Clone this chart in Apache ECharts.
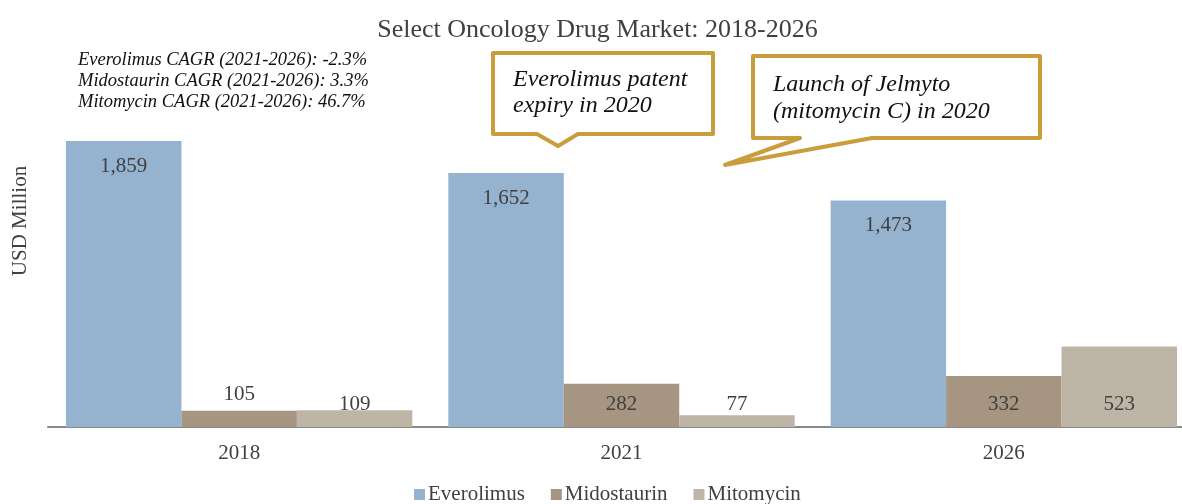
<!DOCTYPE html>
<html>
<head>
<meta charset="utf-8">
<script src="https://cdn.jsdelivr.net/npm/echarts@6/dist/echarts.min.js"></script>
<style>
  html, body { margin: 0; padding: 0; background: #fff; overflow: hidden; }
  #chart { width: 1195px; height: 504px; }
</style>
</head>
<body>
<div id="chart"></div>
<script>
// Market size by year, USD million
const categories = ['2018', '2021', '2026'];
const seriesNames = ['Everolimus', 'Midostaurin', 'Mitomycin'];
const everolimus = [1859, 1652, 1473];
const midostaurin = [105, 282, 332];
const mitomycin = [109, 77, 523];
const cagrNotes = [
  'Everolimus CAGR (2021-2026): -2.3%',
  'Midostaurin CAGR (2021-2026): 3.3%',
  'Mitomycin CAGR (2021-2026): 46.7%'
];
const calloutPatent = ['Everolimus patent', 'expiry in 2020'];
const calloutLaunch = ['Launch of Jelmyto', '(mitomycin C) in 2020'];
const yAxisTitle = 'USD Million';

const FONT = '"Liberation Serif", "DejaVu Serif", serif';
const TEXT = '#404040';
const GOLD = '#C99D3B';
const colors = ['#95B2CE', '#A69581', '#BEB5A7'];

const chart = echarts.init(document.getElementById('chart'), null, { renderer: 'canvas' });

const labelBase = {
  show: true,
  color: TEXT,
  fontFamily: FONT,
  fontSize: 21,
  formatter: p => echarts.format.addCommas(p.value)
};

// Short bars get their label above; the rest sit near the bar foot
function lowSeriesData(values, abovePositions) {
  return values.map((v, i) => ({
    value: v,
    label: abovePositions.includes(i)
      ? { position: 'top', distance: 6 }
      : { position: 'insideBottom', distance: 12 }
  }));
}

const option = {
  animation: false,
  color: colors,
  title: {
    text: 'Select Oncology Drug Market: 2018-2026',
    left: 'center',
    top: 12,
    textStyle: { fontFamily: FONT, fontSize: 26, fontWeight: 'normal', color: TEXT }
  },
  legend: {
    top: 479,
    left: 409,
    itemWidth: 11,
    itemHeight: 11,
    itemGap: 26,
    icon: 'rect',
    textStyle: { fontFamily: FONT, fontSize: 21, color: TEXT, padding: [0, 0, 0, -2] },
    data: seriesNames
  },
  grid: { left: 48, right: 0, top: 119.4, height: 307.6, containLabel: false, outerBoundsMode: 'none' },
  xAxis: {
    type: 'category',
    data: categories,
    axisTick: { show: false },
    axisLine: { lineStyle: { color: '#8A8A8A', width: 2 } },
    axisLabel: { fontFamily: FONT, fontSize: 21, color: TEXT, margin: 16 }
  },
  yAxis: {
    type: 'value',
    min: 0,
    max: 2000,
    interval: 500,
    axisLine: { show: false },
    axisTick: { show: false },
    axisLabel: { show: false },
    splitLine: { show: false }
  },
  series: [
    {
      name: seriesNames[0], type: 'bar', data: everolimus,
      barGap: '0%', barCategoryGap: '9.4%',
      label: Object.assign({}, labelBase, { position: 'insideTop', distance: 15 })
    },
    {
      name: seriesNames[1], type: 'bar', data: lowSeriesData(midostaurin, [0]),
      barGap: '0%', barCategoryGap: '9.4%',
      label: labelBase
    },
    {
      name: seriesNames[2], type: 'bar', data: lowSeriesData(mitomycin, []),
      barGap: '0%', barCategoryGap: '9.4%',
      label: labelBase
    }
  ],
  graphic: [
    {
      type: 'text', x: 20, y: 221, rotation: Math.PI / 2,
      style: {
        text: yAxisTitle,
        font: '21px ' + FONT,
        fill: TEXT,
        align: 'center',
        verticalAlign: 'middle'
      }
    },
    {
      type: 'text', left: 78, top: 50,
      style: {
        text: cagrNotes.join('\n'),
        font: 'italic 18.5px ' + FONT,
        lineHeight: 21,
        fill: '#111'
      }
    },
    {
      type: 'polygon',
      shape: { points: [[493, 53], [713, 53], [713, 134], [578, 134], [558, 146], [537, 134], [493, 134]] },
      style: { fill: '#fff', stroke: GOLD, lineWidth: 4, lineJoin: 'round' }
    },
    {
      type: 'text', left: 513, top: 67,
      style: {
        text: calloutPatent.join('\n'),
        font: 'italic 24px ' + FONT,
        lineHeight: 26,
        fill: '#111'
      }
    },
    {
      type: 'polygon',
      shape: { points: [[753, 56], [1040, 56], [1040, 138], [872, 138], [725, 165], [800, 138], [753, 138]] },
      style: { fill: '#fff', stroke: GOLD, lineWidth: 4, lineJoin: 'round' }
    },
    {
      type: 'text', left: 773, top: 71,
      style: {
        text: calloutLaunch.join('\n'),
        font: 'italic 24px ' + FONT,
        lineHeight: 27,
        fill: '#111'
      }
    }
  ]
};

chart.setOption(option);
</script>
</body>
</html>
